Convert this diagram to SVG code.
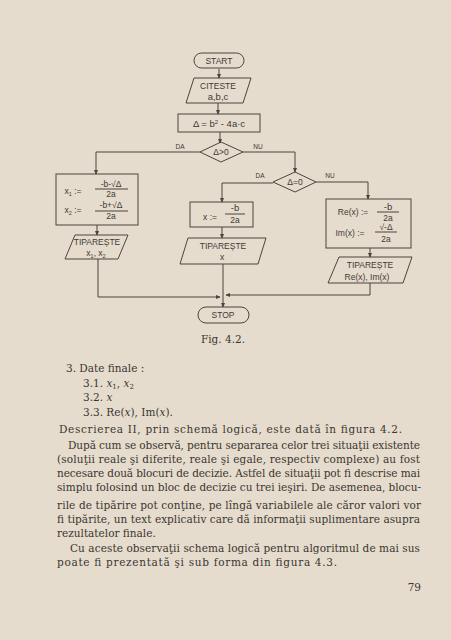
<svg xmlns="http://www.w3.org/2000/svg" width="451" height="640" viewBox="0 0 451 640">
<defs>
<marker id="ah" viewBox="0 0 8 8" refX="7" refY="4" markerWidth="5" markerHeight="5" orient="auto" markerUnits="userSpaceOnUse">
<path d="M0,0.5 L8,4 L0,7.5 Z" fill="#4a4540"/>
</marker>
<style>
.shape{fill:none;stroke:#4a4540;stroke-width:1}
.con{fill:none;stroke:#4a4540;stroke-width:1}
.fc{font-family:"Liberation Sans","DejaVu Sans",sans-serif;fill:#3e3a35;text-anchor:middle}
.s8{font-size:8.5px}
.s9{font-size:9.5px}
.lbl{font-family:"Liberation Sans",sans-serif;font-size:6.5px;fill:#3e3a35;text-anchor:middle}
.body{font-family:"DejaVu Serif","Liberation Serif",serif;font-size:10.5px;fill:#3a3631}
.it{font-style:italic}
</style>
</defs>
<rect x="0" y="0" width="451" height="640" fill="#e6dccd"/>

<g id="connectors">
<path class="con" d="M219,69 V78" marker-end="url(#ah)"/>
<path class="con" d="M218,103 V114" marker-end="url(#ah)"/>
<path class="con" d="M220,132 V143" marker-end="url(#ah)"/>
<path class="con" d="M200,152 H96 V174" marker-end="url(#ah)"/>
<path class="con" d="M243,152 H295 V172" marker-end="url(#ah)"/>
<path class="con" d="M273,183 H222 V202" marker-end="url(#ah)"/>
<path class="con" d="M316,182 H368 V199" marker-end="url(#ah)"/>
<path class="con" d="M97,225 V235" marker-end="url(#ah)"/>
<path class="con" d="M222,227 V238" marker-end="url(#ah)"/>
<path class="con" d="M370,248 V257" marker-end="url(#ah)"/>
<path class="con" d="M98,259 V297 H220" marker-end="url(#ah)"/>
<path class="con" d="M370,283 V295 H226" marker-end="url(#ah)"/>
<path class="con" d="M223,264 V307" marker-end="url(#ah)"/>
<text class="lbl" x="180" y="149">DA</text>
<text class="lbl" x="258" y="149">NU</text>
<text class="lbl" x="260" y="178">DA</text>
<text class="lbl" x="330" y="178">NU</text>
</g>

<g id="start">
<rect class="shape" x="194" y="53" width="50" height="15" rx="7.5"/>
<text class="fc s8" x="219" y="63.5">START</text>
</g>

<g id="read">
<polygon class="shape" points="194,78 251,78 243,103 186,103"/>
<text class="fc s8" x="218" y="89">CITESTE</text>
<text class="fc s9" x="218" y="100">a,b,c</text>
</g>

<g id="delta">
<rect class="shape" x="178" y="114" width="82" height="18"/>
<text class="fc s9" x="219" y="126.5">Δ = b<tspan font-size="6" dy="-3">2</tspan><tspan dy="3"> - 4a·c</tspan></text>
</g>

<g id="dec1">
<polygon class="shape" points="200,152 221,142 243,152 221,162"/>
<text class="fc s8" x="221" y="155">Δ&gt;0</text>
</g>

<g id="dec2">
<polygon class="shape" points="273,182 295,172 316,182 295,192"/>
<text class="fc s8" x="295" y="185">Δ=0</text>
</g>

<g id="roots-real">
<rect class="shape" x="56" y="174" width="82" height="51"/>
<text class="fc s8" x="73" y="194">x<tspan font-size="5.5" dy="1.5">1</tspan><tspan dy="-1.5"> :=</tspan></text>
<text class="fc s8" x="111" y="187">-b-√Δ</text>
<line class="shape" x1="95" y1="189" x2="128" y2="189"/>
<text class="fc s8" x="111" y="197">2a</text>
<text class="fc s8" x="73" y="213">x<tspan font-size="5.5" dy="1.5">2</tspan><tspan dy="-1.5"> :=</tspan></text>
<text class="fc s8" x="111" y="208">-b+√Δ</text>
<line class="shape" x1="95" y1="211" x2="128" y2="211"/>
<text class="fc s8" x="111" y="219">2a</text>
</g>

<g id="root-double">
<rect class="shape" x="190" y="202" width="63" height="25"/>
<text class="fc s8" x="210" y="220">x :=</text>
<text class="fc s9" x="235" y="211">-b</text>
<line class="shape" x1="225" y1="214" x2="245" y2="214"/>
<text class="fc s8" x="235" y="223">2a</text>
</g>

<g id="roots-complex">
<rect class="shape" x="326" y="199" width="85" height="49"/>
<text class="fc s8" x="353" y="215">Re(x) :=</text>
<text class="fc s9" x="388" y="210">-b</text>
<line class="shape" x1="377" y1="212" x2="399" y2="212"/>
<text class="fc s8" x="388" y="221">2a</text>
<text class="fc s8" x="350" y="236">Im(x) :=</text>
<text class="fc s8" x="386" y="230">√-Δ</text>
<line class="shape" x1="375" y1="232" x2="397" y2="232"/>
<text class="fc s8" x="386" y="242">2a</text>
</g>

<g id="print1">
<polygon class="shape" points="75,235 128,235 118,259 65,259"/>
<text class="fc s8" x="97" y="245">TIPAREȘTE</text>
<text class="fc s8" x="96" y="256">x<tspan font-size="5.5" dy="1.5">1</tspan><tspan dy="-1.5">, x</tspan><tspan font-size="5.5" dy="1.5">2</tspan></text>
</g>

<g id="print2">
<polygon class="shape" points="188,238 266,238 258,264 180,264"/>
<text class="fc s8" x="223" y="249">TIPAREȘTE</text>
<text class="fc s8" x="222" y="260">x</text>
</g>

<g id="print3">
<polygon class="shape" points="339,257 412,257 403,283 328,283"/>
<text class="fc s8" x="370" y="268">TIPAREȘTE</text>
<text class="fc s8" x="367" y="280">Re(x), Im(x)</text>
</g>

<g id="stop">
<rect class="shape" x="198" y="307" width="51" height="16" rx="8"/>
<text class="fc s8" x="223" y="318">STOP</text>
</g>

<text class="body" x="223" y="343" font-size="8" text-anchor="middle">Fig. 4.2.</text>

<g id="text">
<text class="body" x="66" y="372">3. Date finale :</text>
<text class="body" x="83" y="387">3.1. <tspan class="it">x</tspan><tspan font-size="7" dy="2">1</tspan><tspan dy="-2">, </tspan><tspan class="it">x</tspan><tspan font-size="7" dy="2">2</tspan></text>
<text class="body" x="83" y="401">3.2. <tspan class="it">x</tspan></text>
<text class="body" x="83" y="416">3.3. Re(<tspan class="it">x</tspan>), Im(<tspan class="it">x</tspan>).</text>
<text class="body" x="59" y="433" textLength="343" lengthAdjust="spacing">Descrierea II, prin schemă logică, este dată în figura 4.2.</text>
<text class="body" x="68" y="449" textLength="352" lengthAdjust="spacing">După cum se observă, pentru separarea celor trei situaţii existente</text>
<text class="body" x="57" y="463" textLength="363" lengthAdjust="spacing">(soluţii reale şi diferite, reale şi egale, respectiv complexe) au fost</text>
<text class="body" x="57" y="477" textLength="363" lengthAdjust="spacing">necesare două blocuri de decizie. Astfel de situaţii pot fi descrise mai</text>
<text class="body" x="57" y="491" textLength="364" lengthAdjust="spacing">simplu folosind un bloc de decizie cu trei ieşiri. De asemenea, blocu-</text>
<text class="body" x="57" y="509" textLength="364" lengthAdjust="spacing">rile de tipărire pot conţine, pe lîngă variabilele ale căror valori vor</text>
<text class="body" x="57" y="523" textLength="363" lengthAdjust="spacing">fi tipărite, un text explicativ care dă informaţii suplimentare asupra</text>
<text class="body" x="57" y="537">rezultatelor finale.</text>
<text class="body" x="70" y="552" textLength="350" lengthAdjust="spacing">Cu aceste observaţii schema logică pentru algoritmul de mai sus</text>
<text class="body" x="57" y="566" textLength="280" lengthAdjust="spacing">poate fi prezentată şi sub forma din figura 4.3.</text>
<text class="body" x="421" y="591" text-anchor="end" font-size="10">79</text>
</g>
</svg>
